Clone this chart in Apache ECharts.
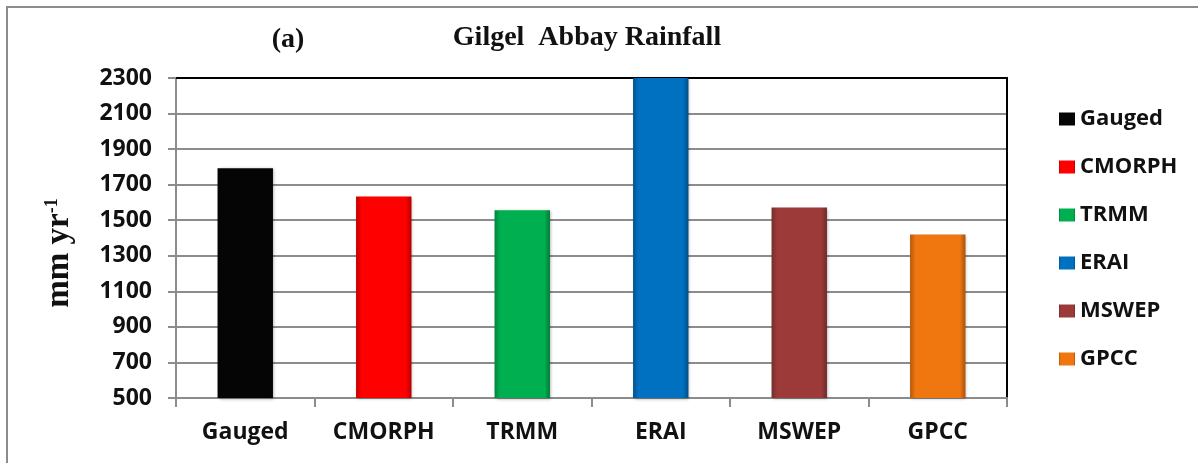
<!DOCTYPE html>
<html>
<head>
<meta charset="utf-8">
<script src="https://cdn.jsdelivr.net/npm/echarts@6/dist/echarts.min.js"></script>
<style>
  html, body { margin: 0; padding: 0; background: #fff; }
  #chart { width: 1198px; height: 463px; }
</style>
</head>
<body>
<div id="chart"></div>
<script>
// values (mm/yr)
const categories = ['Gauged', 'CMORPH', 'TRMM', 'ERAI', 'MSWEP', 'GPCC'];
const rainfall = [1792, 1633, 1556, 2300, 1571, 1419];
const barColors = ['#050505', '#ff0000', '#00b050', '#0070c0', '#9c3a3a', '#f0760f'];
const yTicks = { min: 500, max: 2300, step: 200 };

function shade(hex, f) {
  let n = parseInt(hex.slice(1), 16);
  let r = (n >> 16) & 255, g = (n >> 8) & 255, b = n & 255;
  const m = v => Math.max(0, Math.min(255, Math.round(v * f)));
  return 'rgb(' + m(r) + ',' + m(g) + ',' + m(b) + ')';
}

function bevel(c) {
  return new echarts.graphic.LinearGradient(0, 0, 1, 0, [
    { offset: 0, color: shade(c, 0.75) },
    { offset: 0.1, color: c },
    { offset: 0.9, color: c },
    { offset: 1, color: shade(c, 0.7) }
  ]);
}

const labelFont = 'Open Sans';

// one series per category so each gets its own legend entry
const series = categories.map((name, i) => ({
  name: name,
  type: 'bar',
  barWidth: '40%',
  barGap: '-100%',
  data: rainfall.map((v, j) => (j === i ? v : null)),
  itemStyle: {
    color: bevel(barColors[i]),
    shadowColor: 'rgba(0,0,0,0.35)',
    shadowBlur: 3,
    shadowOffsetX: 1,
    shadowOffsetY: 1
  }
}));

const chart = echarts.init(document.getElementById('chart'));
chart.setOption({
  animation: false,
  color: barColors,
  title: [
    {
      text: 'Gilgel  Abbay Rainfall',
      left: 582, top: 19, textAlign: 'center',
      textStyle: { fontFamily: 'Liberation Serif', fontWeight: 'bold', fontSize: 28, color: '#111' }
    },
    {
      text: '(a)',
      left: 283, top: 21, textAlign: 'center',
      textStyle: { fontFamily: 'Liberation Serif', fontWeight: 'bold', fontSize: 28, color: '#111' }
    }
  ],
  legend: {
    orient: 'vertical',
    left: 1054,
    top: 101,
    itemWidth: 16,
    itemHeight: 13,
    itemGap: 22,
    icon: 'rect',
    textStyle: { fontFamily: labelFont, fontWeight: 'bold', fontSize: 22, color: '#111', lineHeight: 26 }
  },
  grid: { left: 176, right: 191, top: 78, bottom: 65 },
  xAxis: [
    {
      type: 'category',
      data: categories,
      axisLine: { lineStyle: { color: '#8c8c8c', width: 2 } },
      axisTick: { show: true, length: 9, lineStyle: { color: '#8c8c8c', width: 2 } },
      axisLabel: { margin: 23, fontFamily: labelFont, fontWeight: 'bold', fontSize: 23, color: '#111' }
    },
    {
      type: 'category',
      position: 'top',
      data: categories,
      axisLine: { lineStyle: { color: '#000', width: 2 } },
      axisTick: { show: false },
      axisLabel: { show: false }
    }
  ],
  yAxis: [
    {
      type: 'value',
      min: yTicks.min,
      max: yTicks.max,
      interval: yTicks.step,
      name: '{n|mm yr}{s|-1}',
      nameLocation: 'middle',
      nameGap: 100,
      nameTextStyle: {
        padding: [0, 30, 0, 0],
        rich: {
          n: { fontFamily: 'Liberation Serif', fontWeight: 'bold', fontSize: 33, color: '#111' },
          s: { fontFamily: 'Liberation Serif', fontWeight: 'bold', fontSize: 18, color: '#111', verticalAlign: 'top', padding: [0, 0, 14, 0] }
        }
      },
      axisLine: { show: true, lineStyle: { color: '#8c8c8c', width: 2 } },
      axisTick: { show: true, length: 8, lineStyle: { color: '#8c8c8c', width: 2 } },
      axisLabel: {
        margin: 24, fontFamily: labelFont, fontWeight: 'bold', fontSize: 23, color: '#111',
        formatter: v => String(v)
      },
      splitLine: { lineStyle: { color: '#8c8c8c', width: 2 } }
    },
    {
      type: 'value',
      position: 'right',
      min: yTicks.min,
      max: yTicks.max,
      interval: yTicks.step,
      axisLine: { show: true, lineStyle: { color: '#000', width: 2 } },
      axisTick: { show: false },
      axisLabel: { show: false },
      splitLine: { show: false }
    }
  ],
  graphic: [
    {
      type: 'rect',
      shape: { x: 7, y: 7, width: 1400, height: 700 },
      style: { fill: 'none', stroke: '#8c8c8c', lineWidth: 2 },
      silent: true, z: -1
    }
  ],
  series: series
});
</script>
</body>
</html>
